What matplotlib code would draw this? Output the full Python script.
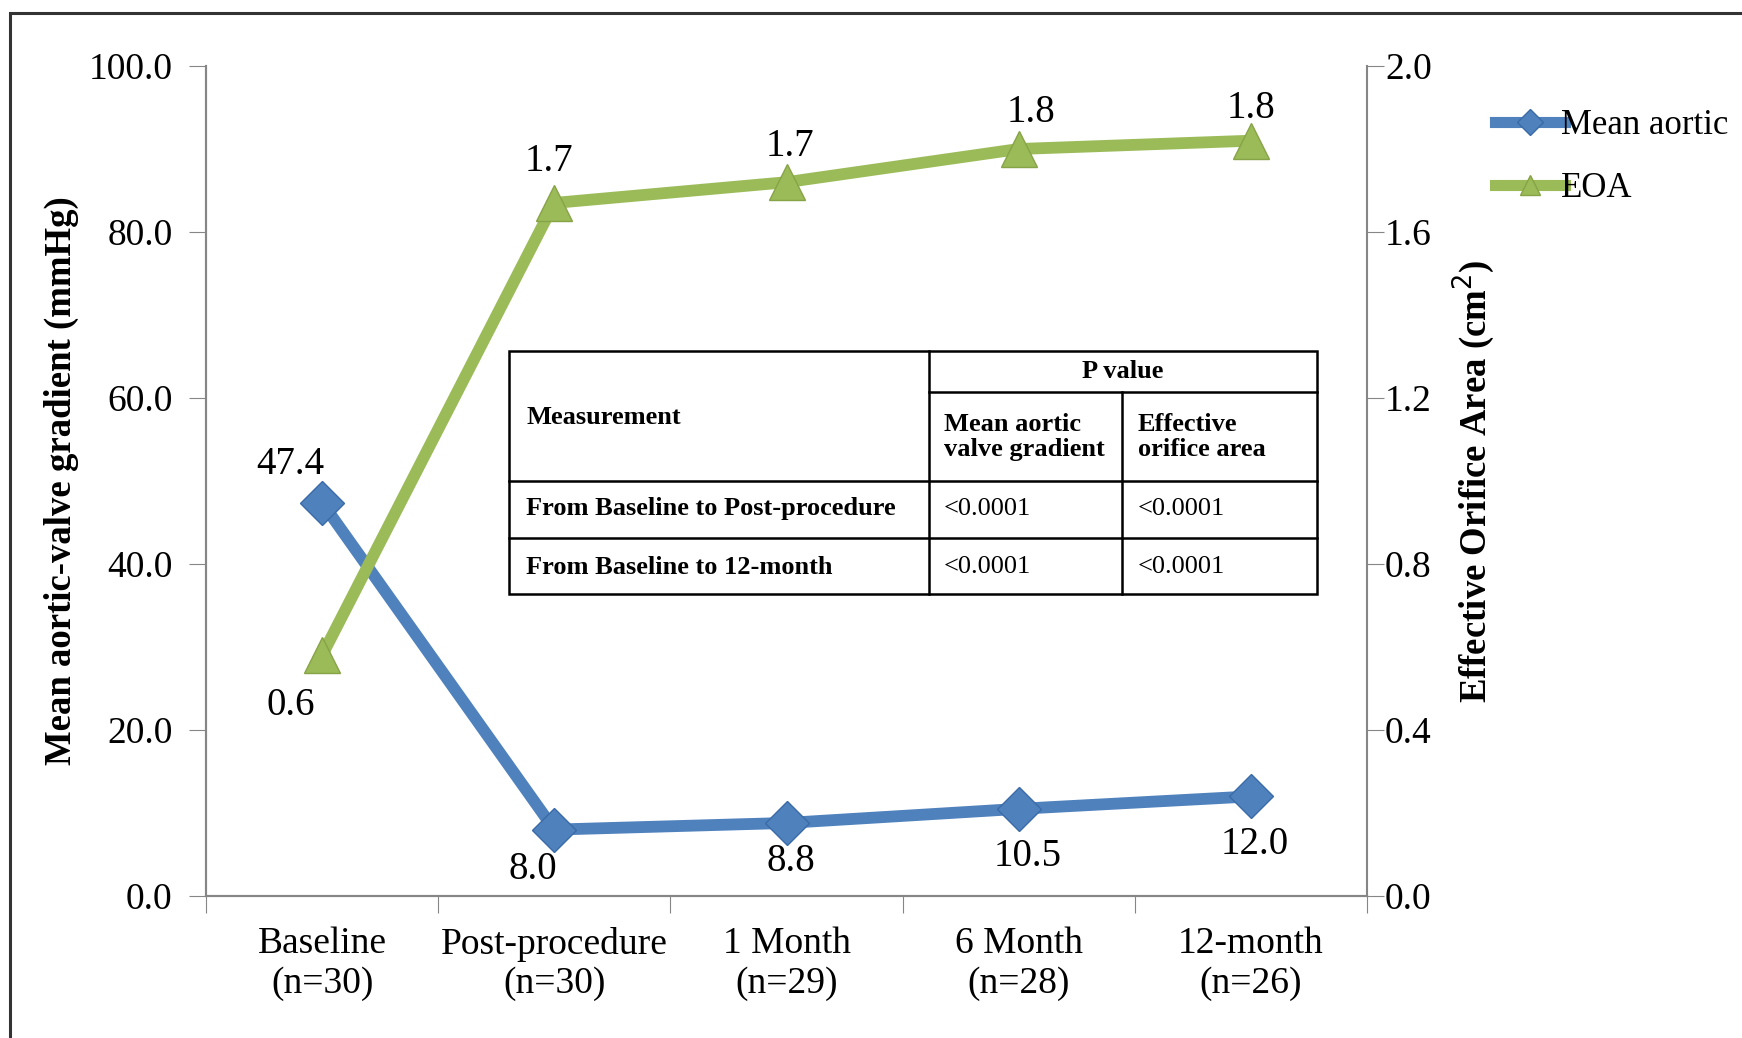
import matplotlib.pyplot as plt
from matplotlib.lines import Line2D
from matplotlib.patches import Rectangle

plt.rcParams['font.family'] = ['Liberation Serif', 'DejaVu Serif']

# data
timepoints = ['Baseline\n(n=30)', 'Post-procedure\n(n=30)', '1 Month\n(n=29)',
              '6 Month\n(n=28)', '12-month\n(n=26)']
gradient = [47.4, 8.0, 8.8, 10.5, 12.0]
eoa = [0.58, 1.67, 1.72, 1.80, 1.82]

grad_ticks = [0, 20, 40, 60, 80, 100]
eoa_ticks = [0.0, 0.4, 0.8, 1.2, 1.6, 2.0]

table_rows = [
    ['From Baseline to Post-procedure', '<0.0001', '<0.0001'],
    ['From Baseline to 12-month', '<0.0001', '<0.0001'],
]

# label offsets in pixels (dx, dy) relative to each marker
grad_offsets = [(-32, 38), (-21, -40), (4, -39), (9, -48), (4, -48)]
eoa_offsets = [(-31, -50), (-5, 41), (3, 36), (12, 36), (0, 32)]

blue = '#4F81BD'
green = '#9BBB59'
W, H = 1742, 1038

fig = plt.figure(figsize=(W / 100, H / 100), dpi=100)
ax = fig.add_axes([206 / W, 1 - 896 / H, (1367 - 206) / W, (896 - 66) / H])
ax2 = ax.twinx()

x = range(len(timepoints))
ax.plot(x, gradient, color=blue, lw=8.5, marker='D', ms=22, mfc=blue,
        mec='#3A6BA8', mew=1, zorder=3, solid_capstyle='round')
ax2.plot(x, eoa, color=green, lw=8.5, marker='^', ms=26, mfc=green,
         mec='#86A346', mew=1, zorder=3, solid_capstyle='round')

for i, v in enumerate(gradient):
    dx, dy = grad_offsets[i]
    ax.annotate(f'{v:.1f}', (i, v), xytext=(dx * 0.72, dy * 0.72),
                textcoords='offset points', ha='center', va='center', fontsize=28)
for i, v in enumerate(eoa):
    dx, dy = eoa_offsets[i]
    ax2.annotate(f'{v:.1f}', (i, v), xytext=(dx * 0.72, dy * 0.72),
                 textcoords='offset points', ha='center', va='center', fontsize=28)

ax.set_xlim(-0.5, len(timepoints) - 0.5)
ax.set_ylim(0, 100)
ax2.set_ylim(0, 2.0)
ax.set_yticks(grad_ticks)
ax.set_yticklabels([f'{t:.1f}' for t in grad_ticks], fontsize=27)
ax2.set_yticks(eoa_ticks)
ax2.set_yticklabels([f'{t:.1f}' for t in eoa_ticks], fontsize=27)

# category labels between boundary ticks
ax.set_xticks([i - 0.5 for i in range(len(timepoints) + 1)])
ax.set_xticklabels([])
ax.set_xticks(list(x), minor=True)
ax.set_xticklabels(timepoints, minor=True, fontsize=27, linespacing=1.2)
ax.tick_params(axis='x', which='minor', length=0, pad=22)
ax.tick_params(axis='x', which='major', length=12, color='#868686')
ax.tick_params(axis='y', length=12, color='#868686', pad=12)
ax2.tick_params(axis='y', length=12, color='#868686', pad=1)

for a in (ax, ax2):
    a.spines['top'].set_visible(False)
    for s in ('left', 'right', 'bottom'):
        a.spines[s].set_color('#868686')
        a.spines[s].set_linewidth(1.5)
ax.spines['right'].set_visible(False)

ax.set_ylabel('Mean aortic-valve gradient (mmHg)', fontsize=26.5, fontweight='bold')
ax2.set_ylabel('Effective Orifice Area (cm$^2$)', fontsize=26.5, fontweight='bold')
ax.yaxis.set_label_coords(61 / W, 1 - 481 / H, transform=fig.transFigure)
ax2.yaxis.set_label_coords(1474 / W, 1 - 481 / H, transform=fig.transFigure)
ax.yaxis.label.set_va('center')
ax2.yaxis.label.set_va('center')

# legend
handles = [
    Line2D([], [], color=blue, lw=8, marker='D', ms=13, mfc=blue, mec='#3A6BA8'),
    Line2D([], [], color=green, lw=8, marker='^', ms=15, mfc=green, mec='#86A346'),
]
fig.legend(handles, ['Mean aortic', 'EOA'], loc='upper left',
           bbox_to_anchor=(1478 / W, 1 - 92 / H), frameon=False, fontsize=25,
           handlelength=2.0, handletextpad=-0.1, labelspacing=0.85, borderpad=0)

# p-value table
def fx(px):
    return px / W

def fy(py):
    return 1 - py / H

tl, tr, tt, tb = 509, 1317, 351, 594
c1, c2 = 929, 1122
r1, r2, r3 = 392, 481, 538
lkw = dict(color='black', lw=1.8, transform=fig.transFigure)
fig.add_artist(Rectangle((fx(tl), fy(tb)), fx(tr - tl), (tb - tt) / H,
                         transform=fig.transFigure, fill=True, fc='white',
                         ec='black', lw=1.8, zorder=5))
for xs, ys in [((c1, c1), (tt, tb)), ((c2, c2), (r1, tb)),
               ((c1, tr), (r1, r1)), ((tl, tr), (r2, r2)), ((tl, tr), (r3, r3))]:
    fig.add_artist(Line2D([fx(v) for v in xs], [fy(v) for v in ys], zorder=6, **lkw))

tkw = dict(fontsize=19, va='center', zorder=7)
fig.text(fx(526), fy(417), 'Measurement', fontweight='bold', ha='left', **tkw)
fig.text(fx((c1 + tr) / 2), fy(372), 'P value', fontweight='bold', ha='center', **tkw)
fig.text(fx(944), fy(437), 'Mean aortic\nvalve gradient', fontweight='bold',
         ha='left', linespacing=1.1, **tkw)
fig.text(fx(1138), fy(437), 'Effective\norifice area', fontweight='bold',
         ha='left', linespacing=1.1, **tkw)
for (label, p1, p2), yy in zip(table_rows, [509, 567]):
    fig.text(fx(526), fy(yy), label, fontweight='bold', ha='left', **tkw)
    fig.text(fx(944), fy(yy), p1, ha='left', **tkw)
    fig.text(fx(1138), fy(yy), p2, ha='left', **tkw)

# outer frame
fig.add_artist(Rectangle((fx(10), fy(1100)), fx(1800), 1087 / H,
                         transform=fig.transFigure, fill=False, ec='#333333', lw=2.2))

fig.savefig('out.png', dpi=100)
